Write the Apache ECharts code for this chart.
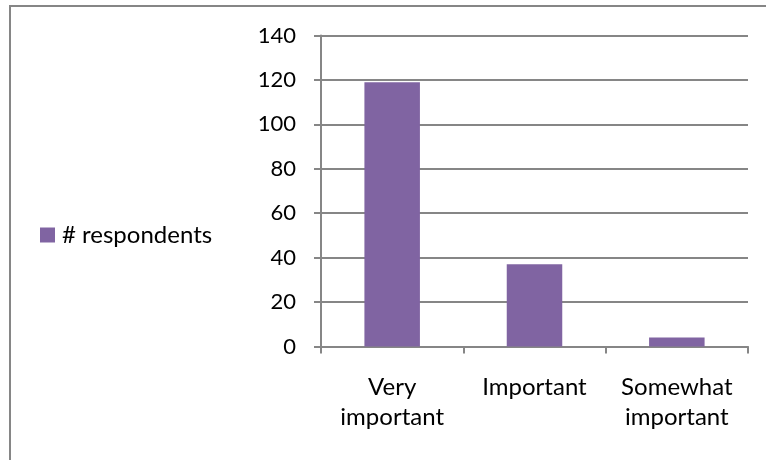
<!DOCTYPE html>
<html>
<head>
<meta charset="utf-8">
<script src="https://cdn.jsdelivr.net/npm/echarts@6/dist/echarts.min.js"></script>
<style>
  html, body { margin: 0; padding: 0; background: #fff; }
  #chart { width: 766px; height: 460px; }
</style>
</head>
<body>
<div id="chart"></div>
<script>
// Importance ratings by number of respondents
const categories = ['Very\nimportant', 'Important', 'Somewhat\nimportant'];
const respondents = [119, 37, 4];
const seriesName = '# respondents';
const yTicks = { min: 0, max: 140, interval: 20 };

const FONT = 'Lato, "Open Sans", sans-serif';
const GRAY = '#868686';
const PURPLE = '#8064A2';

const chart = echarts.init(document.getElementById('chart'), null, { renderer: 'canvas' });
chart.setOption({
  animation: false,
  backgroundColor: '#fff',
  textStyle: { fontFamily: FONT },
  graphic: [{
    type: 'rect',
    shape: { x: 10, y: 6, width: 820, height: 520 },
    style: { fill: 'none', stroke: GRAY, lineWidth: 2 },
    silent: true
  }],
  legend: {
    left: 40, top: 223,
    padding: 0,
    orient: 'vertical',
    itemWidth: 15, itemHeight: 15, itemGap: 6,
    icon: 'rect',
    textStyle: { fontFamily: FONT, fontSize: 24, color: '#000', padding: [0, 0, 0, 2] },
    data: [seriesName]
  },
  grid: { left: 321, right: 18, top: 35.5, bottom: 113.5, containLabel: false },
  xAxis: {
    type: 'category',
    data: categories,
    axisLine: { lineStyle: { color: GRAY, width: 2 } },
    axisTick: { show: true, length: 7, lineStyle: { color: GRAY, width: 2 } },
    axisLabel: { color: '#000', fontSize: 24, fontFamily: FONT, margin: 26, lineHeight: 30, interval: 0 }
  },
  yAxis: {
    type: 'value',
    min: yTicks.min, max: yTicks.max, interval: yTicks.interval,
    axisLine: { show: true, lineStyle: { color: GRAY, width: 2 } },
    axisTick: { show: true, length: 7, lineStyle: { color: GRAY, width: 2 } },
    axisLabel: { color: '#000', fontSize: 22, fontFamily: FONT, margin: 25 },
    splitLine: { lineStyle: { color: GRAY, width: 2 } }
  },
  series: [{
    name: seriesName,
    type: 'bar',
    data: respondents,
    barCategoryGap: '61%',
    itemStyle: { color: PURPLE }
  }]
});
</script>
</body>
</html>
